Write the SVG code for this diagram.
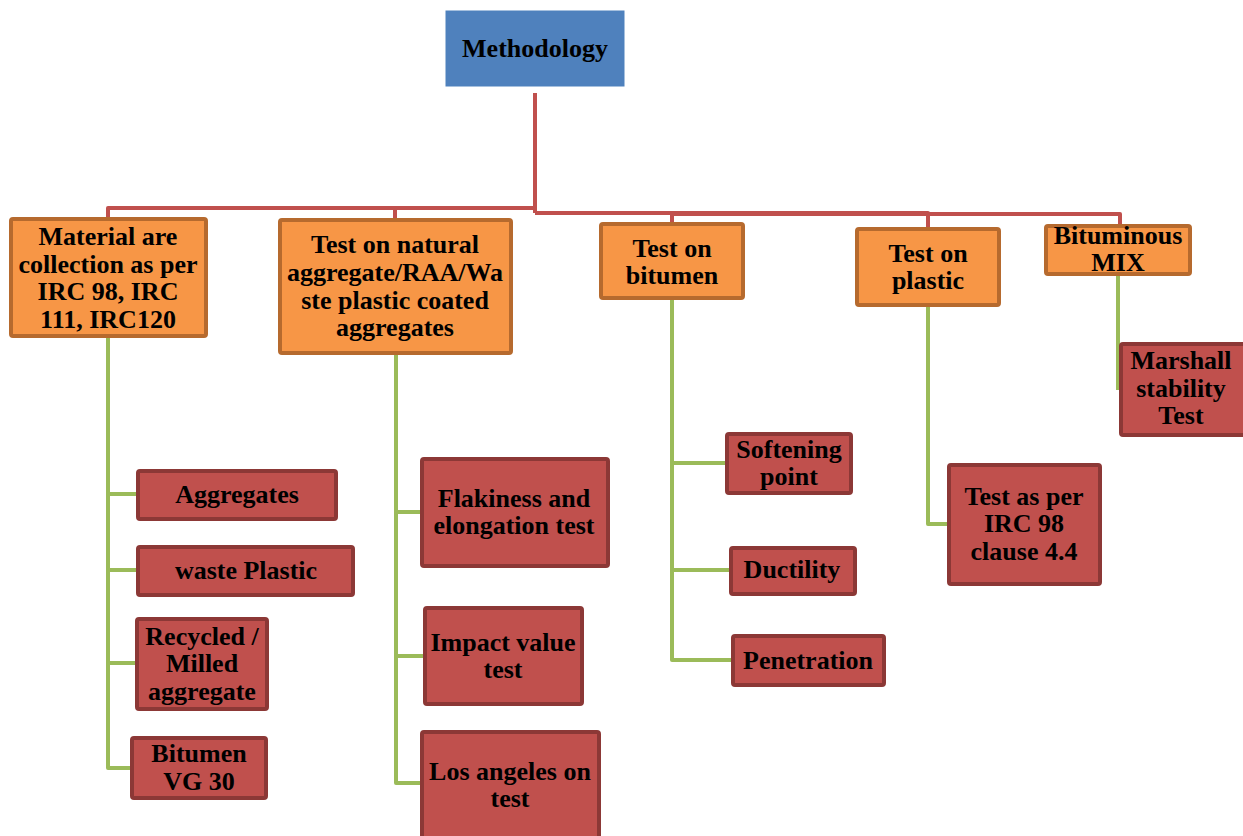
<svg xmlns="http://www.w3.org/2000/svg" width="1243" height="836" viewBox="0 0 1243 836">
<style>
.t{font-family:"Liberation Serif","Times New Roman",serif;font-weight:bold;font-size:26px;fill:#000;text-anchor:middle}
.top{fill:#4F81BD;stroke:#4F81BD;stroke-width:1}
.l1{fill:#F79646;stroke:#B66A2E;stroke-width:4}
.l2{fill:#C0504D;stroke:#8C3836;stroke-width:4}
.rc{fill:none;stroke:#C0504D;stroke-width:4;stroke-linejoin:round}
.gc{fill:none;stroke:#9BBB59;stroke-width:4;stroke-linejoin:round}
</style>
<rect width="1243" height="836" fill="#fff"/>
<g id="connectors">
<path class="rc" d="M535,93 V213"/>
<path class="rc" d="M108,217 V208 H535"/>
<path class="rc" d="M395,218 V208"/>
<path class="rc" d="M535,213 H672 V222" stroke-width="6"/>
<path class="rc" d="M535,213 H928 V227"/>
<path class="rc" d="M672,214 H1120 V224"/>
<path class="gc" d="M108,338 V768 H130"/>
<path class="gc" d="M108,494 H136 M108,570 H136 M108,663 H135"/>
<path class="gc" d="M396,355 V783 H420"/>
<path class="gc" d="M396,512 H420 M396,656 H423"/>
<path class="gc" d="M672,300 V660 H731"/>
<path class="gc" d="M672,463 H725 M672,570 H729"/>
<path class="gc" d="M928,307 V524 H947"/>
<path class="gc" d="M1118,276 V390"/>
</g>
<g id="n-methodology"><rect class="top" x="446" y="11" width="178" height="75"/><text class="t" x="535" y="57">Methodology</text></g>
<g id="n-material"><rect class="l1" x="11" y="219" width="195" height="117" rx="2"/><text class="t" x="108" y="245">Material are</text><text class="t" x="108" y="272.5">collection as per</text><text class="t" x="108" y="300">IRC 98, IRC</text><text class="t" x="108" y="327.5">111, IRC120</text></g>
<g id="n-natural"><rect class="l1" x="280" y="220" width="231" height="133" rx="2"/><text class="t" x="395" y="253">Test on natural</text><text class="t" x="395" y="281">aggregate/RAA/Wa</text><text class="t" x="395" y="309">ste plastic coated</text><text class="t" x="395" y="336">aggregates</text></g>
<g id="n-bitumen"><rect class="l1" x="601" y="224" width="142" height="74" rx="2"/><text class="t" x="672" y="257">Test on</text><text class="t" x="672" y="284">bitumen</text></g>
<g id="n-plastic"><rect class="l1" x="857" y="229" width="142" height="76" rx="2"/><text class="t" x="928" y="262">Test on</text><text class="t" x="928" y="289">plastic</text></g>
<g id="n-mix"><rect class="l1" x="1046" y="226" width="144" height="48" rx="2"/><text class="t" x="1118" y="244">Bituminous</text><text class="t" x="1118" y="271">MIX</text></g>
<g id="n-aggregates"><rect class="l2" x="138" y="471" width="198" height="48" rx="2"/><text class="t" x="237" y="503">Aggregates</text></g>
<g id="n-waste"><rect class="l2" x="138" y="547" width="215" height="48" rx="2"/><text class="t" x="246" y="579">waste Plastic</text></g>
<g id="n-recycled"><rect class="l2" x="137" y="619" width="130" height="90" rx="2"/><text class="t" x="202" y="645">Recycled /</text><text class="t" x="202" y="672">Milled</text><text class="t" x="202" y="700">aggregate</text></g>
<g id="n-vg30"><rect class="l2" x="132" y="738" width="134" height="60" rx="2"/><text class="t" x="199" y="762">Bitumen</text><text class="t" x="199" y="790">VG 30</text></g>
<g id="n-flakiness"><rect class="l2" x="422" y="459" width="186" height="107" rx="2"/><text class="t" x="514" y="507">Flakiness and</text><text class="t" x="514" y="534">elongation test</text></g>
<g id="n-impact"><rect class="l2" x="425" y="608" width="157" height="96" rx="2"/><text class="t" x="503" y="651">Impact value</text><text class="t" x="503" y="678">test</text></g>
<g id="n-losangeles"><rect class="l2" x="422" y="732" width="177" height="110" rx="2"/><text class="t" x="510" y="780">Los angeles on</text><text class="t" x="510" y="807">test</text></g>
<g id="n-softening"><rect class="l2" x="727" y="434" width="124" height="59" rx="2"/><text class="t" x="789" y="458">Softening</text><text class="t" x="789" y="485">point</text></g>
<g id="n-ductility"><rect class="l2" x="731" y="548" width="124" height="46" rx="2"/><text class="t" x="792" y="578">Ductility</text></g>
<g id="n-penetration"><rect class="l2" x="733" y="636" width="151" height="49" rx="2"/><text class="t" x="808" y="669">Penetration</text></g>
<g id="n-irc98"><rect class="l2" x="949" y="465" width="151" height="119" rx="2"/><text class="t" x="1024" y="505">Test as per</text><text class="t" x="1024" y="532">IRC 98</text><text class="t" x="1024" y="560">clause 4.4</text></g>
<g id="n-marshall"><rect class="l2" x="1121" y="344" width="124" height="91" rx="2"/><text class="t" x="1181" y="369">Marshall</text><text class="t" x="1181" y="397">stability</text><text class="t" x="1181" y="424">Test</text></g>
</svg>
